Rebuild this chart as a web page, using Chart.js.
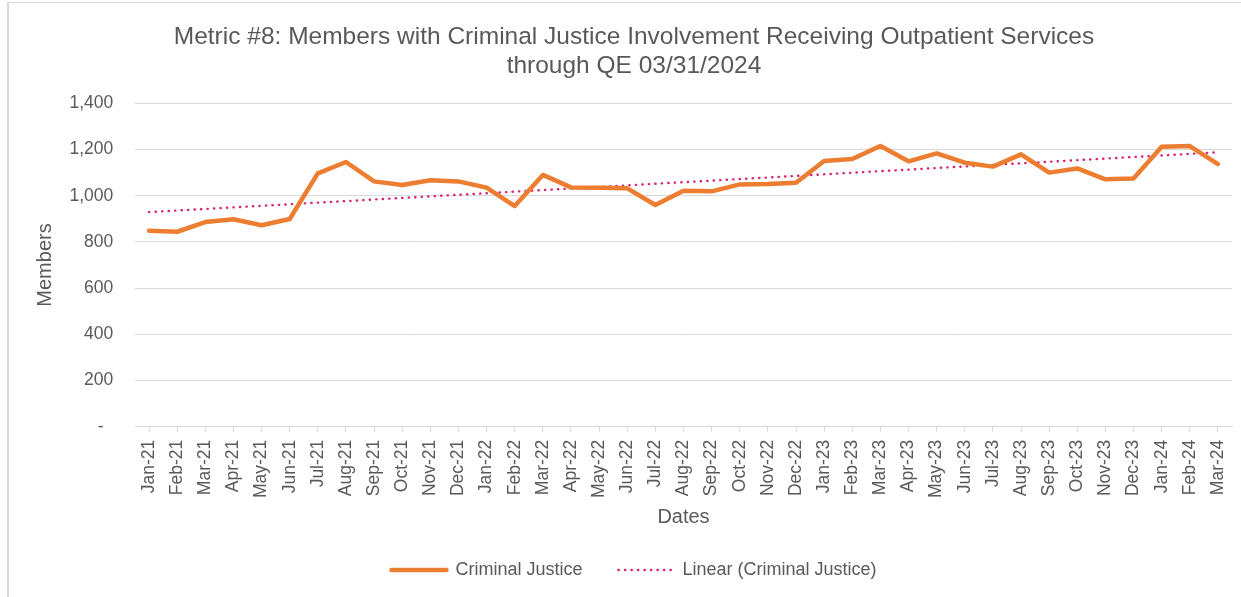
<!DOCTYPE html>
<html>
<head>
<meta charset="utf-8">
<script src="https://cdn.jsdelivr.net/npm/chart.js@4/dist/chart.umd.min.js"></script>
<style>
	html, body { margin: 0; padding: 0; background: #fff; overflow: hidden; }
	#frame {
		position: absolute; left: 7px; top: 2px; width: 1400px; height: 800px;
		border-left: 2px solid #d9d9d9; border-top: 1px solid #d9d9d9;
	}
	#wrap { position: absolute; left: 0; top: 0; width: 1241px; height: 597px; }
</style>
</head>
<body>
<div id="frame"></div>
<div id="wrap"><canvas id="myChart"></canvas></div>
<script>
const months = [
	"Jan-21", "Feb-21", "Mar-21", "Apr-21", "May-21", "Jun-21",
	"Jul-21", "Aug-21", "Sep-21", "Oct-21", "Nov-21", "Dec-21",
	"Jan-22", "Feb-22", "Mar-22", "Apr-22", "May-22", "Jun-22",
	"Jul-22", "Aug-22", "Sep-22", "Oct-22", "Nov-22", "Dec-22",
	"Jan-23", "Feb-23", "Mar-23", "Apr-23", "May-23", "Jun-23",
	"Jul-23", "Aug-23", "Sep-23", "Oct-23", "Nov-23", "Dec-23",
	"Jan-24", "Feb-24", "Mar-24",
];

const criminalJustice = [
	848, 844, 886, 898, 872, 899,
	1097, 1146, 1062, 1046, 1067, 1062,
	1035, 955, 1090, 1036, 1035, 1032,
	960, 1022, 1019, 1049, 1051, 1056,
	1150, 1159, 1215, 1149, 1183, 1143,
	1126, 1179, 1100, 1118, 1071, 1075,
	1212, 1215, 1137,
];

// trendline ends, gaps spanned
const linearTrend = [
	929, null, null, null, null, null, null, null, null, null, null, null, null,
	null, null, null, null, null, null, null, null, null, null, null, null, null,
	null, null, null, null, null, null, null, null, null, null, null, null, 1188,
];

const yTicks = [0, 200, 400, 600, 800, 1000, 1200, 1400];

const textColor = "#595959";
const gridColor = "#d9d9d9";
Chart.defaults.font.family = "'Liberation Sans', Arial, sans-serif";
Chart.defaults.color = textColor;

new Chart("myChart", {
	type: "line",
	data: {
		labels: months,
		datasets: [
			{
				label: "Criminal Justice",
				data: criminalJustice,
				borderColor: "#ED7D31",
				backgroundColor: "#ED7D31",
				borderWidth: 4.5,
				borderCapStyle: "round",
				borderJoinStyle: "round",
				pointRadius: 0,
				pointHoverRadius: 0,
				pointStyle: "line",
				tension: 0,
			},
			{
				label: "Linear (Criminal Justice)",
				data: linearTrend,
				spanGaps: true,
				borderColor: "#D6246E",
				backgroundColor: "#D6246E",
				borderWidth: 2.4,
				borderCapStyle: "round",
				borderDash: [0.3, 6.2],
				pointRadius: 0,
				pointHoverRadius: 0,
				pointStyle: "line",
				tension: 0,
			},
		],
	},
	options: {
		responsive: true,
		maintainAspectRatio: false,
		animation: false,
		events: [],
		layout: { padding: { left: 36, right: 9, top: 0, bottom: 8 } },
		plugins: {
			title: {
				display: true,
				text: [
					"Metric #8: Members with Criminal Justice Involvement Receiving Outpatient Services",
					"through QE 03/31/2024",
				],
				color: textColor,
				font: { size: 24.5, weight: "normal", lineHeight: 1.18 },
				padding: { top: 22.5, bottom: 23 },
			},
			legend: {
				position: "bottom",
				labels: {
					usePointStyle: true,
					pointStyleWidth: 55,
					padding: 36,
					color: textColor,
					font: { size: 18 },
					generateLabels: (chart) => {
						const items = Chart.defaults.plugins.legend.labels.generateLabels(chart);
						items.forEach((it) => {
							const ds = chart.data.datasets[it.datasetIndex];
							it.lineDash = ds.borderDash || [];
							it.lineCap = ds.borderCapStyle || "butt";
							it.lineWidth = ds.borderWidth;
						});
						return items;
					},
				},
			},
			tooltip: { enabled: false },
		},
		scales: {
			x: {
				offset: true,
				afterFit: (scale) => {
					scale.height = 98.3;
					scale.paddingLeft = 0;
					scale.paddingRight = 0;
				},
				grid: {
					drawOnChartArea: false,
					drawTicks: true,
					tickLength: 5,
					color: gridColor,
				},
				border: { display: true, color: gridColor, width: 1 },
				ticks: {
					autoSkip: false,
					maxRotation: 90,
					minRotation: 90,
					padding: 8,
					color: textColor,
					font: { size: 17.5 },
				},
				title: {
					display: true,
					text: "Dates",
					color: textColor,
					font: { size: 20 },
					padding: { top: 9, bottom: -4 },
				},
			},
			y: {
				min: 0,
				max: 1400,
				afterFit: (scale) => { scale.width = 99; },
				afterBuildTicks: (scale) => { scale.ticks = yTicks.map((v) => ({ value: v })); },
				grid: { color: gridColor, drawTicks: false, lineWidth: 1 },
				border: { display: false },
				ticks: {
					padding: 21.7,
					color: textColor,
					font: { size: 17.5 },
					callback: (v) => (v === 0 ? "-  " : v.toLocaleString("en-US")),
				},
				title: {
					display: true,
					text: "Members",
					color: textColor,
					font: { size: 20 },
					padding: { top: -3, bottom: 0 },
				},
			},
		},
	},
});
</script>
</body>
</html>
